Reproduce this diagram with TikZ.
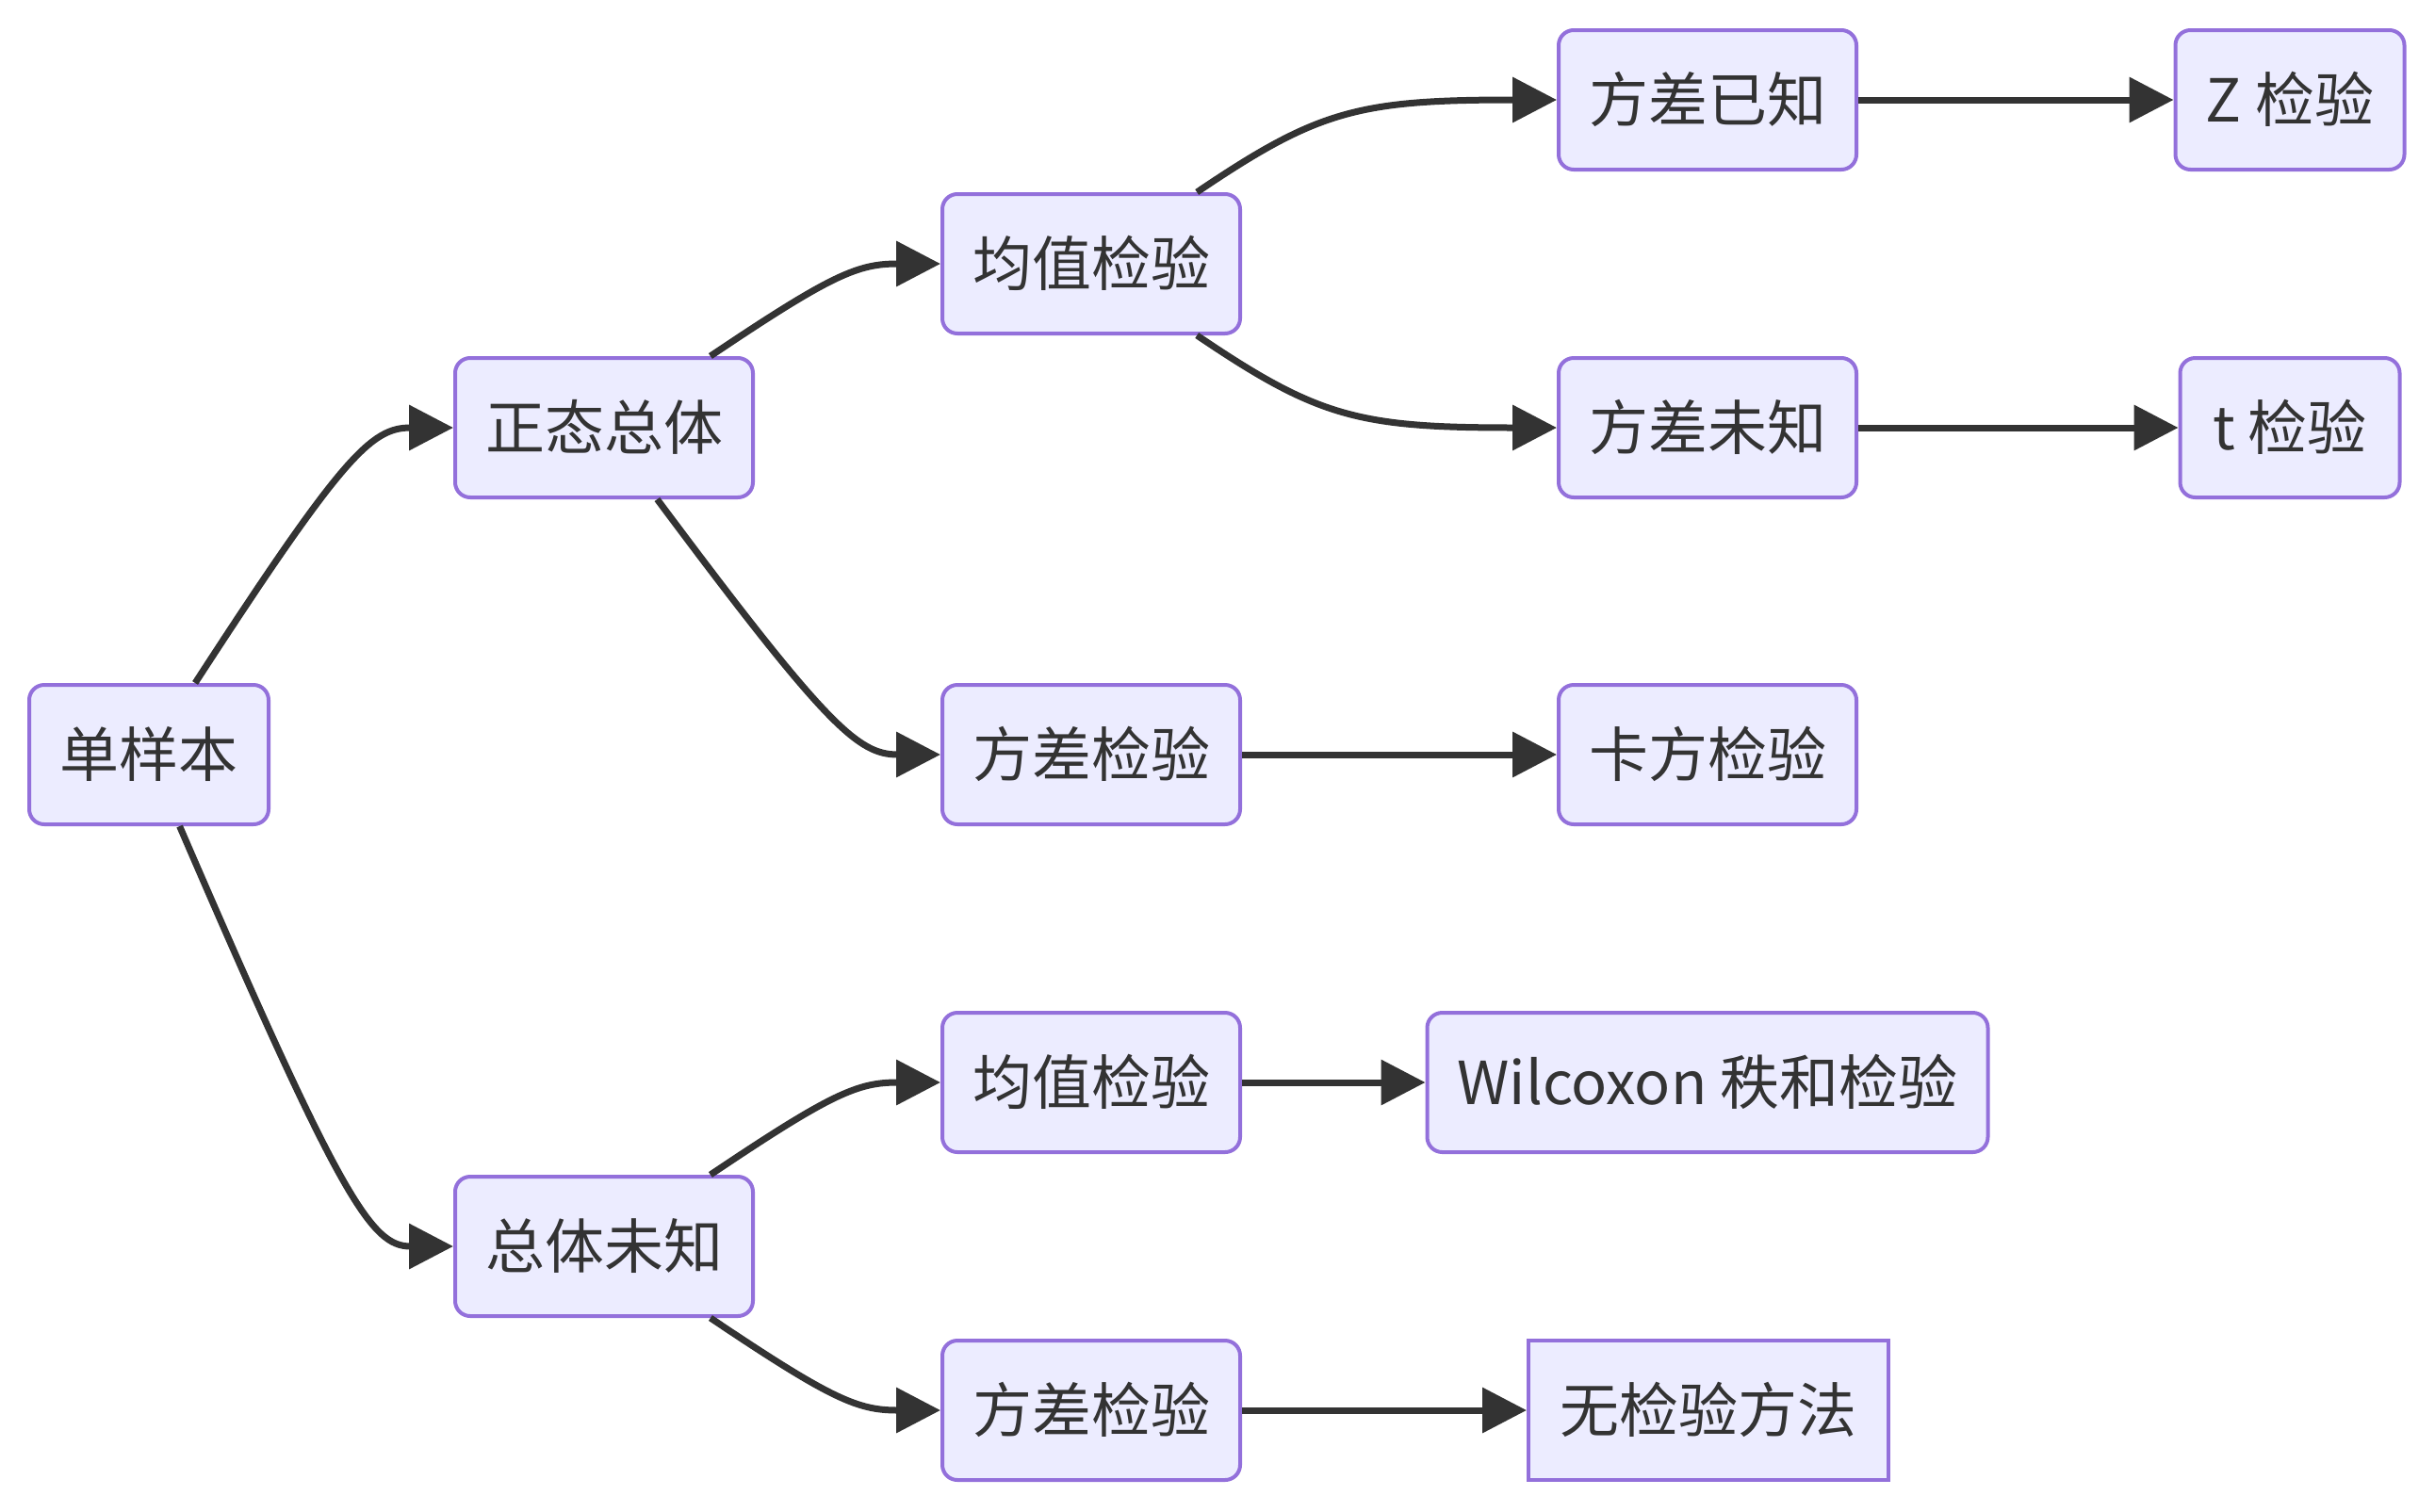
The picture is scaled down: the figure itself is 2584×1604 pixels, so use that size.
\documentclass[tikz,border=0pt]{standalone}
\usepackage{fontspec}
\setmainfont{Noto Sans CJK SC}
\usetikzlibrary{arrows.meta}
\definecolor{nodefill}{HTML}{ECECFF}
\definecolor{nodeline}{HTML}{9370DB}
\definecolor{ink}{HTML}{333333}

\begin{document}
\begin{tikzpicture}[x=1pt, y=-1pt,
  box/.style={draw=nodeline, fill=nodefill, line width=4pt, rounded corners=16pt,
    minimum height=148pt, inner xsep=6pt, inner ysep=0pt, text=ink,
    font=\fontsize{63}{70}\selectfont, text height=55pt, text depth=8pt},
  sqbox/.style={box, sharp corners},
  link/.style={draw=ink, line width=7pt, -{Triangle[length=47pt,width=47pt]}}]
\useasboundingbox (0,0) rectangle (2584,1604);

% column 0
\node[box, minimum width=254pt] (dan) at (158,801) {单样本};
% column 1
\node[box, minimum width=316pt] (zt) at (641,454) {正态总体};
\node[box, minimum width=316pt] (zw) at (641,1323) {总体未知};
% column 2
\node[box, minimum width=316pt] (jz1) at (1158,280) {均值检验};
\node[box, minimum width=316pt] (fc1) at (1158,801) {方差检验};
\node[box, minimum width=316pt] (jz2) at (1158,1149) {均值检验};
\node[box, minimum width=316pt] (fc2) at (1158,1497) {方差检验};
% column 3
\node[box, minimum width=316pt] (yz) at (1812,106) {方差已知};
\node[box, minimum width=316pt] (wz) at (1812,454) {方差未知};
\node[box, minimum width=316pt] (kf) at (1812,801) {卡方检验};
\node[box, minimum width=595pt] (wil) at (1812,1149) {Wilcoxon 秩和检验};
\node[sqbox, minimum width=382pt] (none) at (1813,1497) {无检验方法};
% column 4
\node[box, minimum width=243pt] (zj) at (2430,106) {Z 检验};
\node[box, minimum width=233pt] (tj) at (2430,454) {t 检验};

% curved branches
\draw[link] (dan) .. controls (363.5,484) and (394,454) .. (zt.west);
\draw[link] (dan) .. controls (361.8,1273.7) and (394,1323) .. (zw.west);
\draw[link] (zt) .. controls (883.2,291) and (910.6,280) .. (jz1.west);
\draw[link] (zt) .. controls (877.1,771) and (910.6,801) .. (fc1.west);
\draw[link] (jz1) .. controls (1398.7,117) and (1441.4,106) .. (yz.west);
\draw[link] (jz1) .. controls (1398.7,443) and (1441.4,454) .. (wz.west);
\draw[link] (zw) .. controls (883.2,1160) and (910.6,1149) .. (jz2.west);
\draw[link] (zw) .. controls (883.2,1486) and (910.6,1497) .. (fc2.west);

% straight links
\draw[link] (yz.east) -- (zj.west);
\draw[link] (wz.east) -- (tj.west);
\draw[link] (fc1.east) -- (kf.west);
\draw[link] (jz2.east) -- (wil.west);
\draw[link] (fc2.east) -- (none.west);
\end{tikzpicture}
\end{document}
